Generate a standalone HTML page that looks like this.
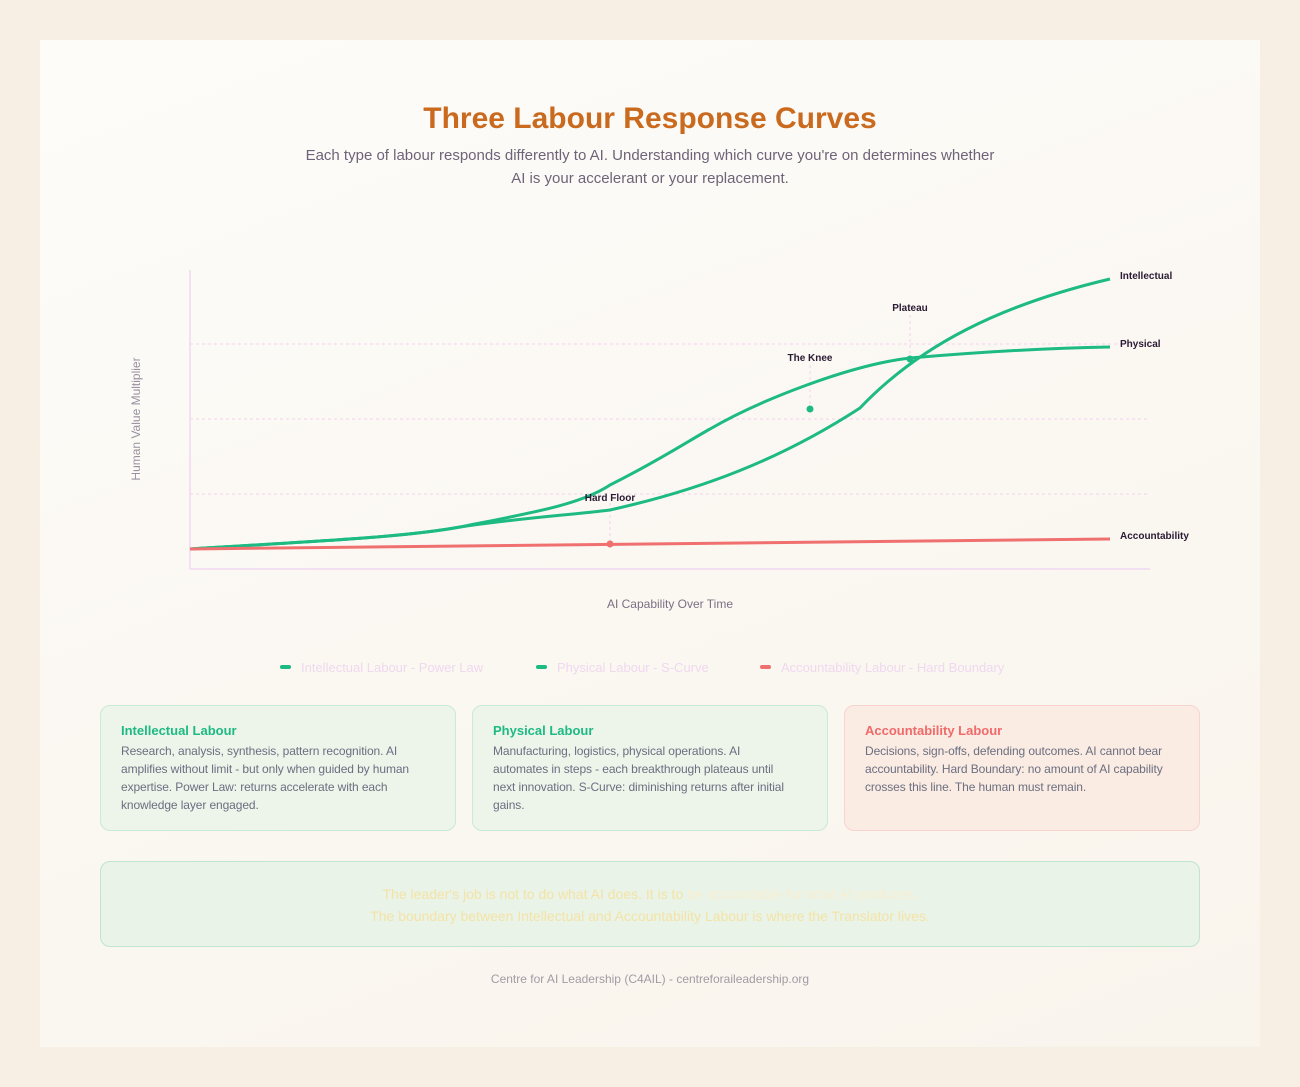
<!DOCTYPE html>
<html><head><meta charset="utf-8"><style>
body{margin:0;width:1300px;height:1087px;background:#f7efe3;font-family:"Liberation Sans",sans-serif;position:relative;overflow:hidden}
.card{position:absolute;left:40px;top:40px;width:1220px;height:1007px;background:linear-gradient(160deg,#fdfcf9,#f9f4ec)}
h1{position:absolute;top:102px;left:0;width:1300px;text-align:center;margin:0;font-size:30px;font-weight:bold;color:#c96a1e}
.sub{position:absolute;top:144px;left:300px;width:700px;text-align:center;font-size:15px;line-height:23px;color:#6e6378}
.legend{position:absolute;top:660px;left:0;width:1300px;font-size:13px;color:#f0d8ef}
.legend span{position:absolute;white-space:nowrap}
.legend i{position:absolute;width:11px;height:4px;border-radius:2px;top:5px}
.box{position:absolute;top:705px;width:356px;height:126px;border-radius:10px;border:1px solid #c8ead6;background:#edf4ea;box-sizing:border-box;padding:17px 20px}
.box b{display:block;font-size:13px;margin-bottom:4px}
.box p{margin:0;font-size:12px;line-height:18px;color:#6b6f80;width:302px;letter-spacing:-0.1px}
.quote{position:absolute;left:100px;top:861px;width:1100px;height:86px;border:1px solid #bfe5cf;border-radius:10px;background:#e9f3e8;box-sizing:border-box;text-align:center;padding-top:21px;font-size:14px;line-height:22px;color:#f4e3a5}
.foot{position:absolute;top:972px;width:1300px;text-align:center;font-size:12px;color:#a39aa5}
</style></head><body>
<div class="card"></div>
<h1>Three Labour Response Curves</h1>
<div class="sub">Each type of labour responds differently to AI. Understanding which curve you're on determines whether AI is your accelerant or your replacement.</div>
<svg style="position:absolute;left:0;top:0" width="1300" height="640" font-family="Liberation Sans, sans-serif">
<g stroke="#f2d2ef" stroke-dasharray="3,3" stroke-width="1">
<line x1="190" y1="344" x2="1148" y2="344"/><line x1="190" y1="419" x2="1148" y2="419"/><line x1="190" y1="494" x2="1148" y2="494"/>
<line x1="610" y1="503" x2="610" y2="544"/><line x1="810" y1="365" x2="810" y2="409"/><line x1="910" y1="315" x2="910" y2="359"/>
</g>
<line x1="190" y1="270" x2="190" y2="569" stroke="#f0d8f2" stroke-width="1.5"/>
<line x1="190" y1="569" x2="1150" y2="569" stroke="#f0d8f2" stroke-width="1.5"/>
<path d="M190,549 C300,542 400,538 460,527 C530,513 580,505 610,485 C660,460 690,440 710,429 C760,400 850,365 910,358 C980,352 1050,348 1110,347" fill="none" stroke="#1dba83" stroke-width="3"/>
<path d="M190,549 C300,542 400,538 460,527 C520,518 570,515 610,510 C700,490 780,460 860,408 C920,345 1000,305 1110,279" fill="none" stroke="#1dba83" stroke-width="3"/>
<path d="M190,549 L1110,539" stroke="#f07070" stroke-width="3"/>
<circle cx="610" cy="544" r="3.5" fill="#f07070"/>
<circle cx="810" cy="409" r="3.5" fill="#1dba83"/>
<circle cx="910" cy="359" r="3.5" fill="#1dba83"/>
<g font-size="10" font-weight="bold" fill="#2a1a33">
<text x="610" y="501" text-anchor="middle">Hard Floor</text>
<text x="810" y="361" text-anchor="middle">The Knee</text>
<text x="910" y="311" text-anchor="middle">Plateau</text>
<text x="1120" y="279">Intellectual</text>
<text x="1120" y="347">Physical</text>
<text x="1120" y="539">Accountability</text>
</g>
<text x="670" y="608" text-anchor="middle" font-size="12" fill="#7a7085">AI Capability Over Time</text>
<text transform="translate(140,419) rotate(-90)" text-anchor="middle" font-size="12" fill="#9a8fa0">Human Value Multiplier</text>
</svg>
<div class="legend">
<i style="left:280px;background:#1dba83"></i><span style="left:301px">Intellectual Labour - Power Law</span>
<i style="left:536px;background:#1dba83"></i><span style="left:557px">Physical Labour - S-Curve</span>
<i style="left:760px;background:#f07070"></i><span style="left:781px">Accountability Labour - Hard Boundary</span>
</div>
<div class="box" style="left:100px"><b style="color:#1dba83">Intellectual Labour</b><p>Research, analysis, synthesis, pattern recognition. AI amplifies without limit - but only when guided by human expertise. Power Law: returns accelerate with each knowledge layer engaged.</p></div>
<div class="box" style="left:472px"><b style="color:#1dba83">Physical Labour</b><p>Manufacturing, logistics, physical operations. AI automates in steps - each breakthrough plateaus until next innovation. S-Curve: diminishing returns after initial gains.</p></div>
<div class="box" style="left:844px;background:#faebe3;border-color:#f8d4d0"><b style="color:#f06a6a">Accountability Labour</b><p>Decisions, sign-offs, defending outcomes. AI cannot bear accountability. Hard Boundary: no amount of AI capability crosses this line. The human must remain.</p></div>
<div class="quote">The leader's job is not to do what AI does. It is to <span style="color:#f9eed0">be accountable for what AI produces.</span><br>The boundary between Intellectual and Accountability Labour is where the Translator lives.</div>
<div class="foot">Centre for AI Leadership (C4AIL) - centreforaileadership.org</div>
</body></html>
